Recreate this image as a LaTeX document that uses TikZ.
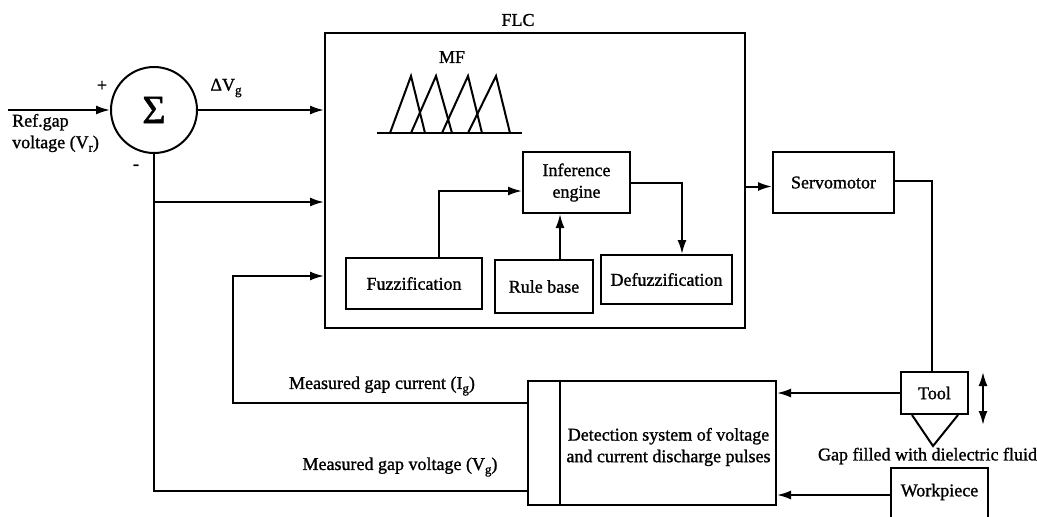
\documentclass[tikz,border=0pt]{standalone}
\usepackage{fontspec}
\setmainfont[FakeBold=1.2]{Liberation Serif}
\usetikzlibrary{arrows.meta,calc}
\newcommand{\sbs}[1]{\raisebox{-0.45ex}{\fontsize{13}{13}\selectfont #1}}
\begin{document}
\begin{tikzpicture}[x=1pt,y=-1pt,
  every node/.style={font=\fontsize{18}{21.6}\selectfont},
  box/.style={draw, line width=2pt, inner sep=0pt, align=center},
  ln/.style={line width=2pt},
  tip/.style={Latex[length=14pt,width=9pt]},
  arr/.style={line width=2pt, -{Latex[length=14pt,width=9pt]}},
  lbl/.style={inner sep=0pt}]
\useasboundingbox (0,0) rectangle (1037,517);
\clip (0,0) rectangle (1037,517);

% blocks
\node[box, minimum width=420pt, minimum height=295pt] (flc) at (535,180.5) {};
\node[lbl] (flclbl) at (518,20) {FLC};
\node[lbl] (mflbl) at (452,57) {MF};
\node[box, circle, minimum size=86pt] (sum) at (154,110) {\fontsize{40}{40}\selectfont Σ};
\node[box, minimum width=107pt, minimum height=61pt] (inf) at (576.5,182.5) {Inference\\engine};
\node[box, minimum width=136pt, minimum height=51pt] (fuz) at (414,283.5) {Fuzzification};
\node[box, minimum width=98pt, minimum height=53pt] (rule) at (544,286.5) {Rule base};
\node[box, minimum width=131pt, minimum height=49pt] (def) at (666.5,279.5) {Defuzzification};
\node[box, minimum width=121pt, minimum height=61pt] (servo) at (833.5,182.5) {Servomotor};
\node[box, minimum width=248pt, minimum height=124pt] (det) at (652,443) {};
\draw[ln] ($(det.north west)+(33,0)$) -- ($(det.south west)+(33,0)$);
\node[lbl, align=center] (dettxt) at (668.5,447) {Detection system of voltage\\and current discharge pulses};
\node[box, minimum width=67pt, minimum height=42pt] (tool) at (934.5,393) {Tool};
\node[inner sep=0pt, minimum width=97pt, minimum height=48pt] (wp) at (939.5,492) {Workpiece};
\draw[ln] ($(wp.south west)+(0,10)$) -- (wp.north west) -- (wp.north east) -- ($(wp.south east)+(0,10)$);

% membership functions
\draw[ln] (377,133) -- (522,133);
\foreach \a/\p/\b in {390/411/425, 411/436/452, 442/468/482, 468/496/510}
  \draw[ln, line join=miter] (\a,133) -- (\p,76) -- (\b,133);

% labels
\node[lbl] (plus) at (102,86) {+};
\node[lbl] (minus) at (136,167) {-};
\node[lbl, align=left, anchor=west] (ref) at (12,133) {Ref.gap\\voltage (V\sbs{r})};
\node[lbl] (dvg) at (226,88) {ΔV\sbs{g}};
\node[lbl] (igl) at (382,386) {Measured gap current (I\sbs{g})};
\node[lbl] (vgl) at (400,467) {Measured gap voltage (V\sbs{g})};
\node[lbl] (gap) at (927.5,456) {Gap filled with dielectric fluid};

% coordinates
\coordinate (in) at (8,110);
\coordinate (j1) at (154,202);
\coordinate (igout) at ($(det.north west)+(0,23)$);
\coordinate (igc) at (233,276);
\coordinate (vgout) at ($(det.south west)+(0,-15)$);

% connectors
\draw[arr] (in) -- (sum.west);
\draw[arr] (sum.east) -- (sum.east -| flc.west);
\draw[ln] (sum.south) |- (vgout);
\draw[arr] (j1) -- (j1 -| flc.west);
\draw[arr] (igout) -| (igc) -- (igc -| flc.west);
\draw[arr] ($(fuz.north)+(25,0)$) |- ($(inf.west)+(0,8.5)$);
\draw[arr] ($(rule.north)+(16,0)$) -- ($(inf.south)+(-16.5,0)$);
\draw[arr] (inf.east) -| ($(def.north)+(15.5,0)$);
\draw[arr] ($(flc.east |- servo.west)+(0,4)$) -- ($(servo.west)+(0,4)$);
\draw[ln] ($(servo.east)+(0,-1.5)$) -| ($(tool.north)+(-2.5,0)$);
\draw[arr] (tool.west) -- (tool.west -| det.east);
\draw[arr] ($(wp.west)+(0,3)$) -- ($(wp.west -| det.east)+(0,3)$);
\draw[ln, line join=miter] ($(tool.south)+(-22.5,0)$) -- ($(tool.south)+(-1.5,31)$) -- ($(tool.south)+(23.5,0)$);
\draw[line width=2pt, {Latex[length=14pt,width=9pt]}-{Latex[length=14pt,width=9pt]}] (983,372) -- (983,425);
\end{tikzpicture}
\end{document}
